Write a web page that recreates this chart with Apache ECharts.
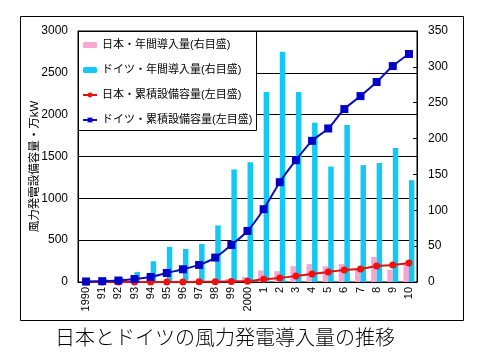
<!DOCTYPE html>
<html><head><meta charset="utf-8">
<script src="https://cdn.jsdelivr.net/npm/echarts@6/dist/echarts.min.js"></script>
<style>html,body{margin:0;padding:0;background:#fff}#c{width:480px;height:360px}</style>
</head><body><div id="c"></div>
<script>
const categories = ['1990','91','92','93','94','95','96','97','98','99','2000','1','2','3','4','5','6','7','8','9','10'];
const japanAnnual = [0,0,0,0,0,0,0.5,0.5,1,4,7,16,15,22,25,22,25,17,35,17,25];
const germanyAnnual = [1,4,6,14,29,49,46,53,79,157,167,265,321,265,222,161,219,163,166,187,142];
const japanCumulative = [1,1,1,1,1,1,1,2,3,7,10,32,48,72,96,120,144,156,191,203,227];
const germanyCumulative = [6,10,18,36,60,108,152,204,292,443,610,870,1193,1456,1687,1835,2067,2222,2390,2581,2725];
const seriesNames = ['日本・年間導入量(右目盛)','ドイツ・年間導入量(右目盛)','日本・累積設備容量(左目盛)','ドイツ・累積設備容量(左目盛)'];
const leftAxisName = '風力発電設備容量・万kW';
const chartTitle = '日本とドイツの風力発電導入量の推移';

const FONT = '"Noto Sans CJK JP", sans-serif';
const MIXFONT = '"Liberation Sans", "Noto Sans CJK JP", sans-serif';
const NUMFONT = '"Liberation Sans", sans-serif';
const chart = echarts.init(document.getElementById('c'), null, {renderer:'canvas'});
chart.setOption({
  animation: false,
  backgroundColor: '#fff',
  title: {text: chartTitle, left: 55, top: 327, padding: 0,
    textStyle: {fontSize: 20, fontWeight: 300, color: '#000', fontFamily: FONT}},
  grid: {left: 78, right: 63, top: 31, bottom: 78, show: true, borderColor: '#000', borderWidth: 1},
  graphic: [
    {type: 'rect', shape: {x: 20.5, y: 16.5, width: 443, height: 304}, style: {fill: 'none', stroke: '#000', lineWidth: 1}, z: 1},
    {type: 'rect', shape: {x: 78.5, y: 31.5, width: 178, height: 99}, style: {fill: '#fff', stroke: '#000', lineWidth: 1}, z: 50}
  ],
  legend: {
    orient: 'vertical', left: 78, top: 31, padding: [7, 4, 6, 4], z: 60,
    itemWidth: 14, itemHeight: 6, itemGap: 11,
    textStyle: {fontSize: 11, lineHeight: 14, color: '#000', fontFamily: MIXFONT},
    data: seriesNames
  },
  xAxis: {
    type: 'category', data: categories, boundaryGap: true,
    axisLine: {lineStyle: {color: '#000', width: 1}},
    axisTick: {inside: true, length: 3, lineStyle: {color: '#000'}},
    axisLabel: {rotate: 90, fontSize: 11, margin: 5, color: '#000', fontFamily: NUMFONT, interval: 0}
  },
  yAxis: [
    {type: 'value', min: 0, max: 3000, interval: 500,
      name: leftAxisName, nameLocation: 'middle', nameGap: 37, nameMoveOverlap: false,
      nameTextStyle: {fontSize: 11.5, color: '#000', fontFamily: MIXFONT, padding: [0, 20, 0, 0]},
      axisLine: {show: true, lineStyle: {color: '#000'}},
      axisTick: {show: false},
      splitLine: {lineStyle: {color: '#000', width: 1}},
      axisLabel: {fontSize: 12, margin: 10, color: '#000', fontFamily: NUMFONT, formatter: v => String(v)}},
    {type: 'value', min: 0, max: 350, interval: 50, position: 'right',
      axisLine: {show: true, lineStyle: {color: '#000'}},
      axisTick: {show: true, inside: true, length: 4, lineStyle: {color: '#000'}},
      splitLine: {show: false},
      axisLabel: {fontSize: 12, margin: 11, color: '#000', fontFamily: NUMFONT, formatter: v => String(v)}}
  ],
  series: [
    {name: seriesNames[0], type: 'bar', yAxisIndex: 1, data: japanAnnual, barWidth: 5.5, barGap: '0%',
      itemStyle: {color: '#F7A6CF'}},
    {name: seriesNames[1], type: 'bar', yAxisIndex: 1, data: germanyAnnual, barWidth: 5.5, barGap: '0%',
      itemStyle: {color: '#14C8F5'}},
    {name: seriesNames[2], type: 'line', yAxisIndex: 0, data: japanCumulative, smooth: 0.3,
      symbol: 'circle', symbolSize: 7, z: 5,
      lineStyle: {color: '#E01010', width: 2}, itemStyle: {color: '#F01010'}},
    {name: seriesNames[3], type: 'line', yAxisIndex: 0, data: germanyCumulative, smooth: 0.3,
      symbol: 'rect', symbolSize: 8, z: 6,
      lineStyle: {color: '#1010B0', width: 2}, itemStyle: {color: '#0000C8'}}
  ]
});
</script></body></html>
